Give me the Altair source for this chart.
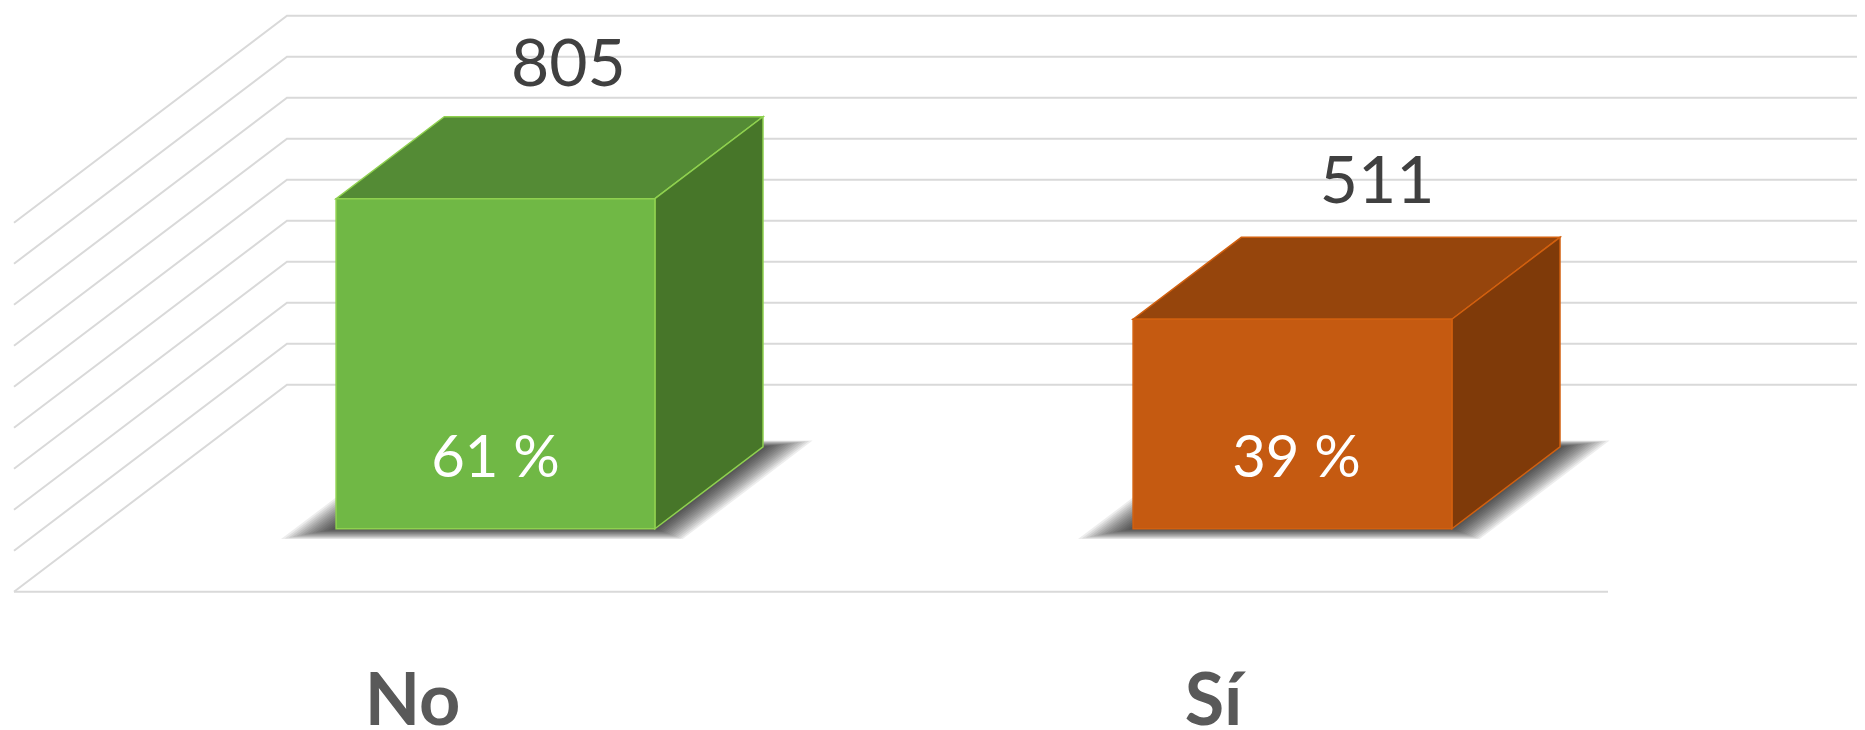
import altair as alt
import pandas as pd

categories = ["No", "Sí"]
counts = [805, 511]
percents = ["61 %", "39 %"]
ticks = [0, 100, 200, 300, 400, 500, 600, 700, 800, 900]
front_fill = ["#70B845", "#C55A11"]
top_fill = ["#548B35", "#96450C"]
side_fill = ["#477629", "#7F3A09"]
edge = ["#8FD14F", "#D2600F"]
count_depth = [0.267, 0.31]
count_lift = [276, 283]
label_nudge = [0.0, 0.005]

W, H = 1849, 722
UNIT_X = 797.0          # pixels per category
UNIT_Y = 0.41           # pixels per count
ZERO_X = 404.5          # pixel of category 0 on the front of the floor
ZERO_Y = 583.7          # pixel of count 0 on the front of the floor
DEPTH_U = 273.0 / UNIT_X
DEPTH_V = 207.0 / UNIT_Y
D1, D2 = 0.304, 0.70    # depth of a bar's front and back
HALF = 0.2              # half of a bar's width
x_scale = alt.Scale(domain=[-ZERO_X / UNIT_X, (W - ZERO_X) / UNIT_X], nice=False, zero=False)
y_scale = alt.Scale(domain=[(ZERO_Y - H) / UNIT_Y, ZERO_Y / UNIT_Y], nice=False, zero=False)
X = alt.X("u:Q", scale=x_scale, axis=None)
X2 = alt.X2("u2:Q")
Y = alt.Y("v:Q", scale=y_scale, axis=None)
Y2 = alt.Y2("v2:Q")

# grid
grid = []
for t in ticks:
    path = [(-0.5, t), (-0.5 + DEPTH_U, t + DEPTH_V), (1.5 + DEPTH_U, t + DEPTH_V)]
    for i, (u, v) in enumerate(path):
        grid.append({"tick": t, "i": i, "u": u, "v": v})
grid += [{"tick": -1, "i": 0, "u": -0.5, "v": 0}, {"tick": -1, "i": 1, "u": 1.5, "v": 0}]
grid_layer = alt.Chart(pd.DataFrame(grid)).mark_line(color="#D9D9D9", strokeWidth=2, clip=True).encode(
    x=X, y=Y, detail="tick:N", order="i:Q")

# floor shadow, built up from translucent footprints
shadow = []
steps = [1.0, 0.93, 0.86, 0.79, 0.72, 0.65, 0.58, 0.51, 0.44, 0.37, 0.3, 0.23, 0.16, 0.09]
for c in range(len(categories)):
    for s, e in enumerate(steps):
        d = 0.05 * e
        w = 0.052 * e
        a, b = D1 - d, D2 + d * 0.6
        l, r = c - HALF - w, c + HALF + w
        shadow.append({"k": f"{c}-{s}", "v": a * DEPTH_V, "u": l + a * DEPTH_U, "u2": r + a * DEPTH_U})
        shadow.append({"k": f"{c}-{s}", "v": b * DEPTH_V, "u": l + b * DEPTH_U, "u2": r + b * DEPTH_U})
shadow_layer = alt.Chart(pd.DataFrame(shadow)).mark_area(
    orient="horizontal", color="#000000", opacity=0.07).encode(
    y=Y, x=X, x2=X2, detail="k:N")

# faces
top, side, front, count_rows, pct_rows, cat_rows = [], [], [], [], [], []
for c, (name, n, p) in enumerate(zip(categories, counts, percents)):
    l, r = c - HALF, c + HALF
    for d in (D1, D2):
        top.append({"k": name, "v": n + d * DEPTH_V, "u": l + d * DEPTH_U, "u2": r + d * DEPTH_U,
                    "f": top_fill[c], "s": edge[c]})
        side.append({"k": name, "u": r + d * DEPTH_U, "v": d * DEPTH_V, "v2": n + d * DEPTH_V,
                     "f": side_fill[c], "s": edge[c]})
    front.append({"k": name, "u": l + D1 * DEPTH_U, "u2": r + D1 * DEPTH_U, "v": D1 * DEPTH_V,
                  "v2": n + D1 * DEPTH_V, "f": front_fill[c], "s": edge[c]})
    count_rows.append({"u": c + (D1 + count_depth[c]) * DEPTH_U, "v": n + D1 * DEPTH_V + count_lift[c], "t": str(n)})
    pct_rows.append({"u": c + D1 * DEPTH_U + label_nudge[c], "v": D1 * DEPTH_V + 127, "t": p})
    cat_rows.append({"u": c + label_nudge[c], "v": -326, "t": name})

stroke = alt.Stroke("s:N", scale=None)
top_layer = alt.Chart(pd.DataFrame(top)).mark_area(orient="horizontal", strokeWidth=1.5).encode(
    y=Y, x=X, x2=X2, detail="k:N", fill=alt.Fill("f:N", scale=None), stroke=stroke)
side_layer = alt.Chart(pd.DataFrame(side)).mark_area(strokeWidth=1.5).encode(
    x=X, y=Y, y2=Y2, detail="k:N", fill=alt.Fill("f:N", scale=None), stroke=stroke)
front_layer = alt.Chart(pd.DataFrame(front)).mark_rect(strokeWidth=1.5).encode(
    x=X, x2=X2, y=Y, y2=Y2, fill=alt.Fill("f:N", scale=None), stroke=stroke)

count_text = alt.Chart(pd.DataFrame(count_rows)).mark_text(
    font="Lato", fontSize=66, color="#404040", baseline="alphabetic", align="center").encode(
    x=X, y=Y, text="t:N")
pct_text = alt.Chart(pd.DataFrame(pct_rows)).mark_text(
    font="Lato", fontSize=58, color="#FFFFFF", baseline="alphabetic", align="center").encode(
    x=X, y=Y, text="t:N")
cat_text = alt.Chart(pd.DataFrame(cat_rows)).mark_text(
    font="Lato", fontSize=72, fontWeight="bold", color="#595959", baseline="alphabetic", align="center").encode(
    x=X, y=Y, text="t:N")

chart = alt.layer(grid_layer, shadow_layer, top_layer, side_layer, front_layer,
                  count_text, pct_text, cat_text).properties(
    width=W, height=H, padding=0, background="#FFFFFF",
    autosize=alt.AutoSizeParams(type="none")
).configure_view(stroke=None)

chart.save("out.html", embed_options={"renderer": "svg", "actions": False})
